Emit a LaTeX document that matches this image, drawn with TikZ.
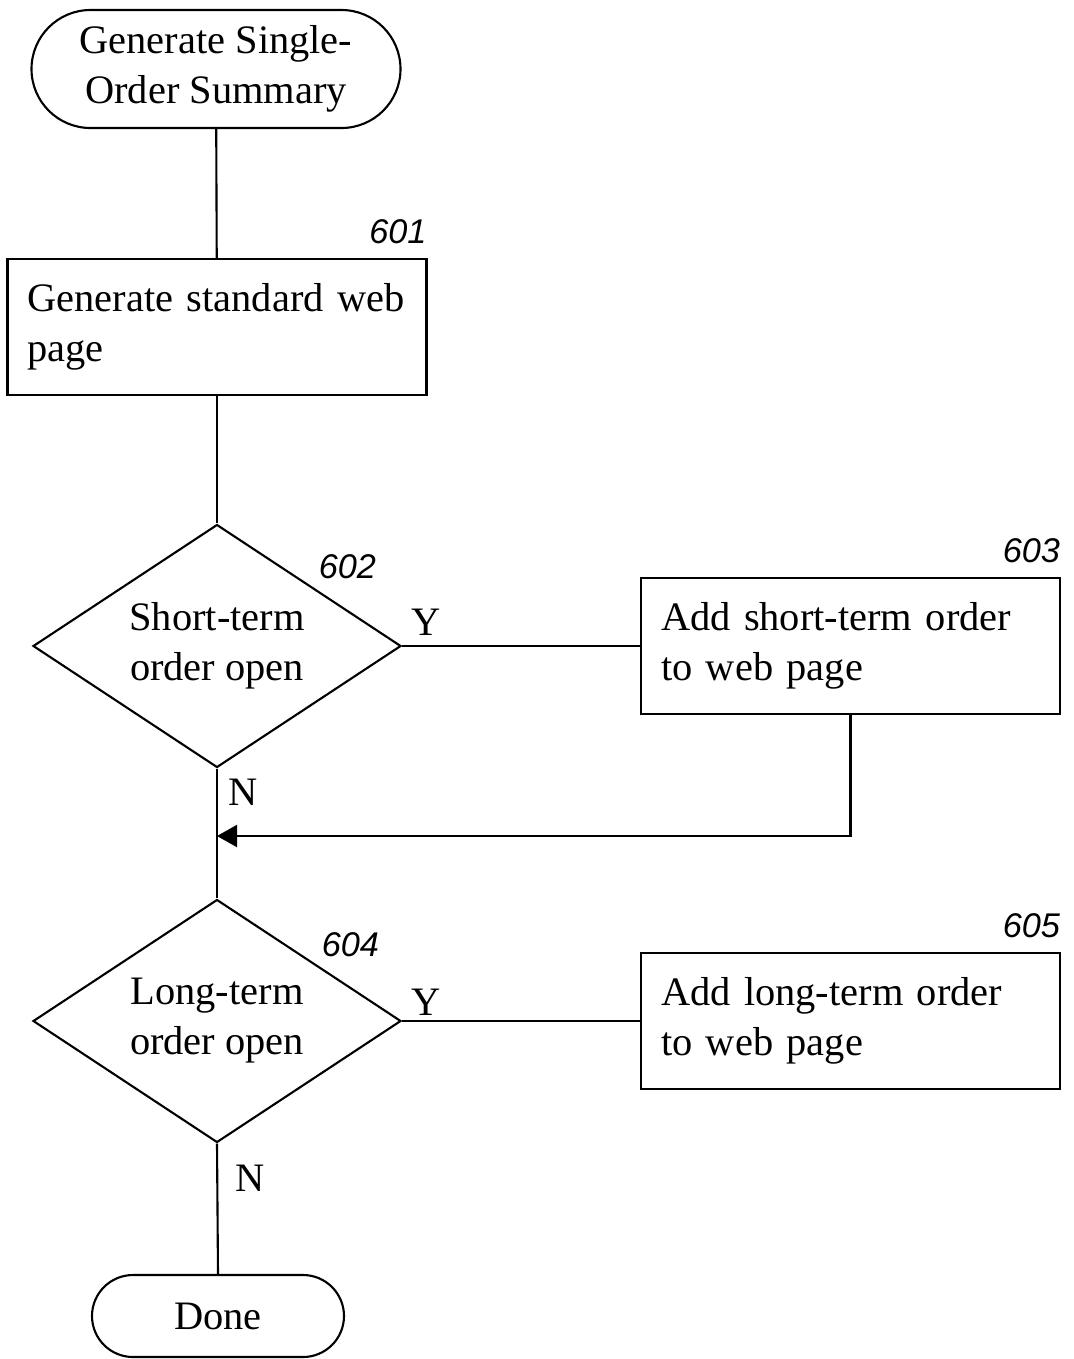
\documentclass[tikz,border=0pt]{standalone}
\usepackage{fontspec}
\setmainfont{Liberation Serif}
\newfontfamily\tagfont{Liberation Sans}
\usetikzlibrary{shapes.geometric,arrows.meta}

\begin{document}
\begin{tikzpicture}[line width=1.2pt,
	every node/.style={font=\fontsize{23}{28.5}\selectfont},
	stepbox/.style={draw, rectangle, minimum width=8.38cm, minimum height=2.72cm,
		text width=7.58cm, inner xsep=0.4cm, align=left},
	decision/.style={draw, diamond, aspect=1.5, inner sep=0pt,
		minimum width=7.36cm, minimum height=4.86cm, align=center},
	numtag/.style={font=\tagfont\itshape\fontsize{19.5}{22}\selectfont, anchor=base east, inner sep=0pt},
	yn/.style={anchor=base, inner sep=0pt}]
	\useasboundingbox (0,0) rectangle (21.48,-27.18);

	% start and end
	\node[draw, rectangle, rounded corners=1.18cm, minimum width=7.38cm, minimum height=2.36cm, align=center]
		(start) at (4.32,-1.38) {Generate Single-\\Order Summary};
	\node[draw, rectangle, rounded corners=0.82cm, minimum width=5.04cm, minimum height=1.64cm]
		(done) at (4.36,-26.32) {Done};

	% steps
	\node[stepbox, minimum width=8.36cm] (b601) at (4.34,-6.54) {Generate standard web\\page};
	\node[decision] (d602) at (4.34,-12.92) {Short-term\\order open};
	\node[stepbox] (b603) at (17.01,-12.92) {Add short-term order\\to web page};
	\node[decision] (d604) at (4.34,-20.42) {Long-term\\order open};
	\node[stepbox] (b605) at (17.01,-20.42) {Add long-term order\\to web page};
	\coordinate (join) at (4.34,-16.72);

	% reference numbers
	\node[numtag] at ([yshift=0.28cm]b601.north east) {601};
	\node[numtag] at (7.54,-11.56) {602};
	\node[numtag] at ([yshift=0.28cm]b603.north east) {603};
	\node[numtag] at (7.6,-19.12) {604};
	\node[numtag] at ([yshift=0.28cm]b605.north east) {605};

	% branch letters
	\node[yn] at (8.52,-12.7) {Y};
	\node[yn] at (4.86,-16.1) {N};
	\node[yn] at (8.52,-20.3) {Y};
	\node[yn] at (5.0,-23.82) {N};

	% connectors
	\draw (start) -- (b601);
	\draw (b601) -- (d602);
	\draw (d602.east) -- (b603.west);
	\draw[-{Triangle[length=0.4cm,width=0.44cm]}] (b603.south) |- (join);
	\draw (d602.south) -- (d604.north);
	\draw (d604.east) -- (b605.west);
	\draw (d604.south) -- (done.north);
\end{tikzpicture}
\end{document}
